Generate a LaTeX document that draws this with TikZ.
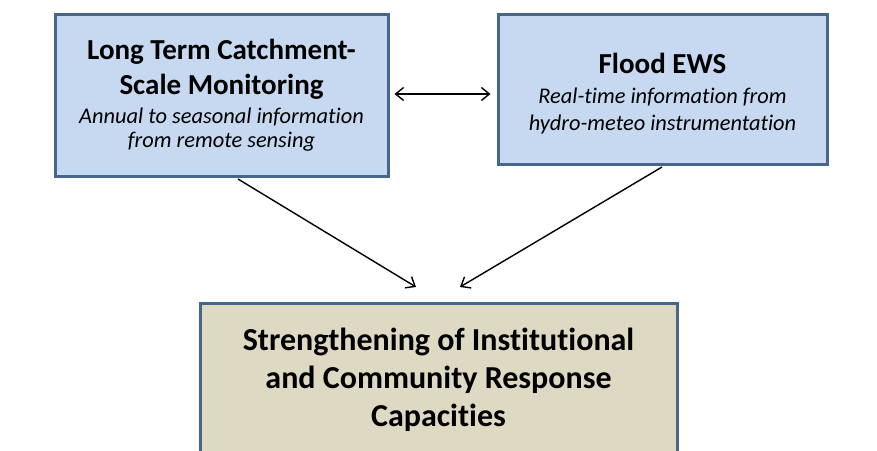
\documentclass[tikz,border=0pt]{standalone}
\usepackage{fontspec}
\setmainfont{Carlito}[Ligatures=NoCommon]
\usetikzlibrary{arrows.meta,calc}
\definecolor{boxblue}{RGB}{198,217,241}
\definecolor{boxtan}{RGB}{221,217,195}
\definecolor{edge}{RGB}{72,101,140}
\tikzset{
  box/.style={draw=edge, line width=3pt, align=center, inner sep=0pt},
  conn/.style={line width=1.4pt, -{Straight Barb[length=8pt,width=13pt,line width=1.4pt]}},
}
\newcommand{\titlefont}{\bfseries\fontsize{29}{32}\selectfont}
\newcommand{\subfont}{\mdseries\itshape\fontsize{22.4}{26}\selectfont}
\begin{document}
\begin{tikzpicture}[x=1pt,y=-1pt]
\useasboundingbox (0,0) rectangle (877,450);
\clip (0,0) rectangle (877,450);
\fill[white] (0,0) rectangle (877,450);
\node[box, fill=boxblue, minimum width=333pt, minimum height=162pt] (b1) at (221.5,95)
  {\titlefont Long Term Catchment-\\[9pt]\titlefont Scale Monitoring\\[7pt]
   \subfont Annual to seasonal information\\[5pt]\subfont from remote sensing};
\node[box, fill=boxblue, minimum width=329pt, minimum height=150pt] (b2) at (662.5,89)
  {\rule{0pt}{30pt}\titlefont Flood EWS\\[13pt]
   \subfont Real-time information from\\[8pt]\subfont hydro-meteo instrumentation};
\node[box, fill=boxtan, minimum width=477pt, minimum height=152pt, anchor=north, font=\bfseries\fontsize{32}{38}\selectfont] (b3) at (438.5,302)
  {Strengthening of Institutional\\and Community Response\\Capacities};
\coordinate (t1) at (416,287);
\coordinate (t2) at (460,287);
\draw[conn] ($(b1.south)+(16.5,1.5)$) -- (t1);
\draw[conn] ($(b2.south)+(-0.5,1.5)$) -- (t2);
\draw[line width=1.4pt, {Straight Barb[length=8pt,width=13pt,line width=1.4pt]}-{Straight Barb[length=8pt,width=13pt,line width=1.4pt]}]
  ($(b1.east)+(5,-1)$) -- ($(b2.west)+(-6,5)$);
\end{tikzpicture}
\end{document}
